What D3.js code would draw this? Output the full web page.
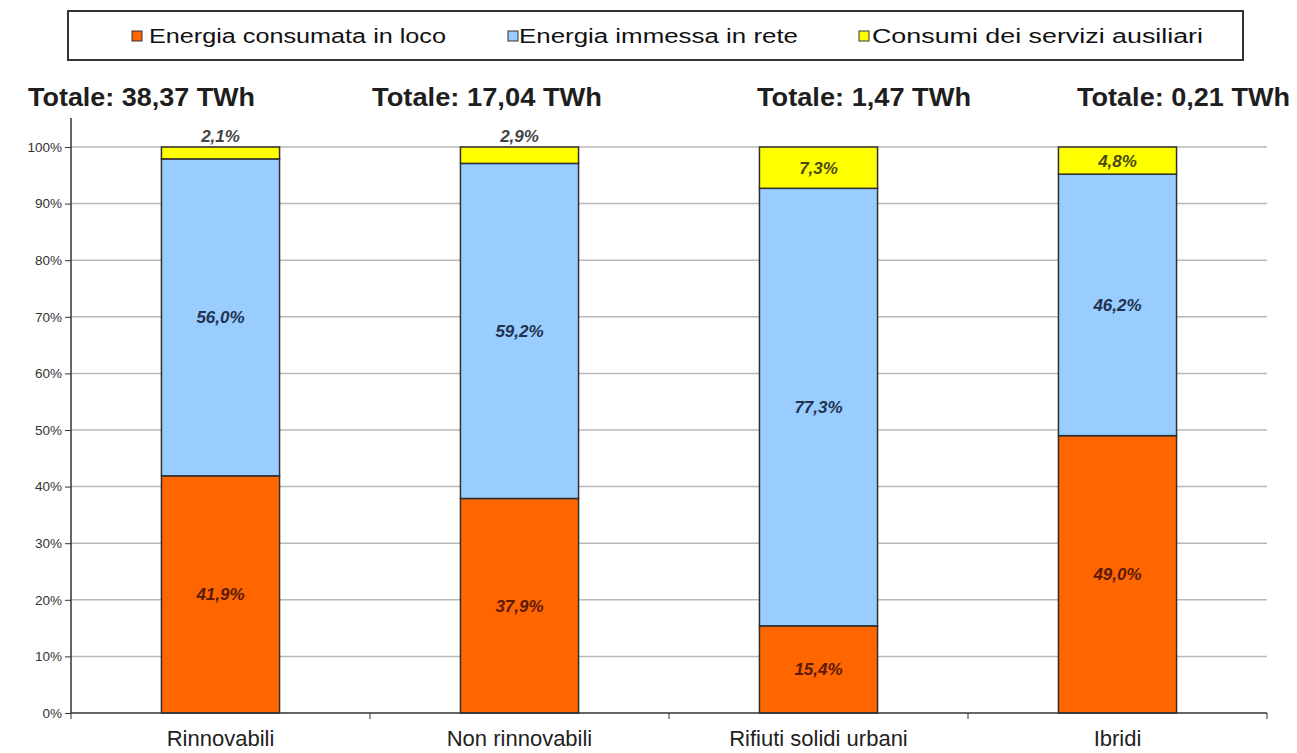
<!DOCTYPE html>
<html>
<head>
<meta charset="utf-8">
<script src="https://cdn.jsdelivr.net/npm/d3@7"></script>
<style>
  html, body { margin: 0; padding: 0; background: #fff; }
  svg { display: block; font-family: Arial, "Liberation Sans", sans-serif; }
</style>
</head>
<body>
<svg id="chart" width="1297" height="753"></svg>
<script>
// Source categories and the share of each energy destination (percent)
const categories = ["Rinnovabili", "Non rinnovabili", "Rifiuti solidi urbani", "Ibridi"];
const totals = ["Totale: 38,37 TWh", "Totale: 17,04 TWh", "Totale: 1,47 TWh", "Totale: 0,21 TWh"];
const seriesNames = ["Energia consumata in loco", "Energia immessa in rete", "Consumi dei servizi ausiliari"];
const consumataInLoco = [41.9, 37.9, 15.4, 49.0];
const immessaInRete = [56.0, 59.2, 77.3, 46.2];
const serviziAusiliari = [2.1, 2.9, 7.3, 4.8];
const yTicks = [0, 10, 20, 30, 40, 50, 60, 70, 80, 90, 100];

const colors = ["#ff6600", "#99ccff", "#ffff00"];
const labelColors = ["#5a1a08", "#22324f", "#4a4a10"];

const svg = d3.select("#chart");
const plot = { left: 71, right: 1267, top: 147, bottom: 713 };

const x = d3.scaleBand().domain(categories).range([plot.left, plot.right]).padding(0);
const y = d3.scaleLinear().domain([0, 100]).range([plot.bottom, plot.top]);
const barW = x.bandwidth() * 0.395;

const fmt = v => v.toFixed(1).replace(".", ",") + "%";

// Horizontal gridlines
svg.append("g")
  .selectAll("line")
  .data(yTicks.filter(t => t > 0))
  .join("line")
  .attr("x1", plot.left).attr("x2", plot.right)
  .attr("y1", d => y(d)).attr("y2", d => y(d))
  .attr("stroke", "#b8b8b8").attr("stroke-width", 1.5);

// Stack the three series per category
const rows = categories.map((c, i) => ({
  cat: c,
  s0: consumataInLoco[i], s1: immessaInRete[i], s2: serviziAusiliari[i]
}));
const stack = d3.stack().keys(["s0", "s1", "s2"])(rows);

const layers = svg.append("g").selectAll("g")
  .data(stack)
  .join("g")
  .attr("fill", (d, i) => colors[i]);

layers.selectAll("rect")
  .data(d => d)
  .join("rect")
  .attr("x", d => x(d.data.cat) + (x.bandwidth() - barW) / 2)
  .attr("width", barW)
  .attr("y", d => y(d[1]))
  .attr("height", d => y(d[0]) - y(d[1]))
  .attr("stroke", "#2f2f2f")
  .attr("stroke-width", 1.5);

// Value labels: centred in the segment, or above the bar when the segment is too thin
stack.forEach((layer, li) => {
  svg.append("g").selectAll("text")
    .data(layer)
    .join("text")
    .attr("x", d => x(d.data.cat) + x.bandwidth() / 2)
    .attr("y", d => {
      const h = y(d[0]) - y(d[1]);
      return h < 20 ? y(d[1]) - 11 : (y(d[0]) + y(d[1])) / 2;
    })
    .attr("dy", "0.35em")
    .attr("text-anchor", "middle")
    .attr("font-size", 17)
    .attr("font-weight", "bold")
    .attr("font-style", "italic")
    .attr("fill", d => (y(d[0]) - y(d[1]) < 20) ? "#444" : labelColors[li])
    .text(d => fmt(d[1] - d[0]));
});

// Y axis
const yAxis = d3.axisLeft(y).tickValues(yTicks).tickFormat(d => d + "%").tickSize(6).tickSizeOuter(0);
const gy = svg.append("g").attr("transform", `translate(${plot.left},0)`).call(yAxis);
gy.select(".domain").remove();
gy.selectAll(".tick line").attr("stroke", "#333");
gy.selectAll(".tick text").attr("font-size", 13.5).attr("fill", "#333").attr("x", -9)
  .attr("font-family", "Arial, 'Liberation Sans', sans-serif");
svg.append("line")
  .attr("x1", plot.left).attr("x2", plot.left)
  .attr("y1", 118).attr("y2", plot.bottom)
  .attr("stroke", "#333").attr("stroke-width", 1.5);

// X axis with ticks on category boundaries
svg.append("line")
  .attr("x1", plot.left).attr("x2", plot.right)
  .attr("y1", plot.bottom).attr("y2", plot.bottom)
  .attr("stroke", "#333").attr("stroke-width", 1.5);
const boundaries = categories.map(c => x(c)).concat([x.range()[1]]);
svg.append("g").selectAll("line")
  .data(boundaries)
  .join("line")
  .attr("x1", d => d).attr("x2", d => d)
  .attr("y1", plot.bottom).attr("y2", plot.bottom + 6)
  .attr("stroke", "#333");
svg.append("g").selectAll("text")
  .data(categories)
  .join("text")
  .attr("x", d => x(d) + x.bandwidth() / 2)
  .attr("y", 746)
  .attr("text-anchor", "middle")
  .attr("font-size", 22)
  .attr("fill", "#222")
  .text(d => d);

// Totals above each column
const totalX = [141.5, 487, 864, 1183.5];
const totalW = [227, 230, 214, 213];
svg.append("g").selectAll("text")
  .data(totals)
  .join("text")
  .attr("x", (d, i) => totalX[i] - totalW[i] / 2)
  .attr("y", 106)
  .attr("font-size", 25)
  .attr("font-weight", "bold")
  .attr("fill", "#1e1e1e")
  .attr("textLength", (d, i) => totalW[i])
  .attr("lengthAdjust", "spacingAndGlyphs")
  .text(d => d);

// Legend
const legend = svg.append("g");
legend.append("rect")
  .attr("x", 68).attr("y", 11).attr("width", 1175).attr("height", 49)
  .attr("fill", "#fff").attr("stroke", "#333").attr("stroke-width", 2);
const legendX = [132, 508, 859];
const legendTextX = [149, 519, 872];
const legendW = [297, 279, 331];
seriesNames.forEach((name, i) => {
  legend.append("rect")
    .attr("x", legendX[i]).attr("y", 31).attr("width", 10).attr("height", 10)
    .attr("fill", colors[i]).attr("stroke", "#333").attr("stroke-width", 1);
  legend.append("text")
    .attr("x", legendTextX[i]).attr("y", 43)
    .attr("font-size", 20)
    .attr("fill", "#111")
    .attr("textLength", legendW[i])
    .attr("lengthAdjust", "spacingAndGlyphs")
    .text(name);
});
</script>
</body>
</html>
